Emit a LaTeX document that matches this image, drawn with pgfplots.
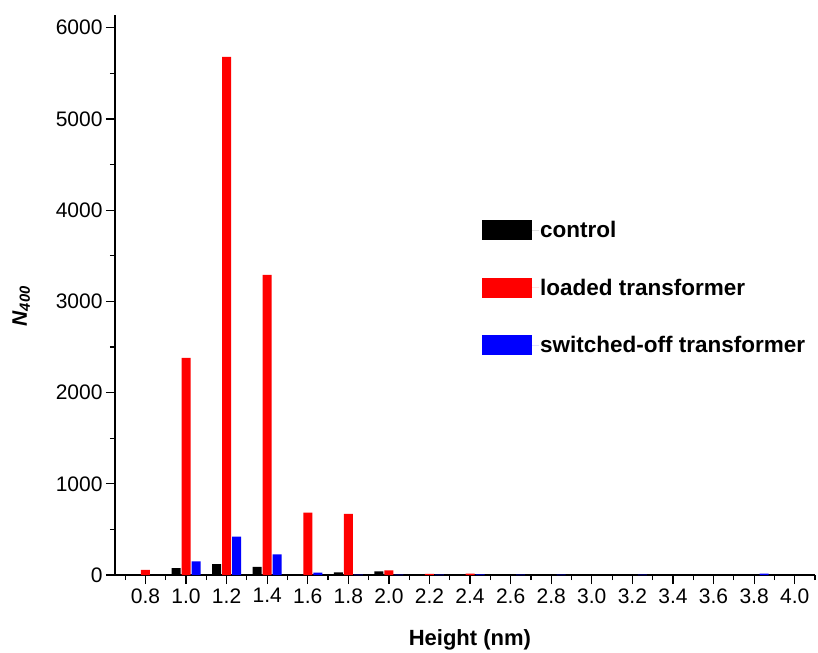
\documentclass[border=0pt]{standalone}
\usepackage{fontspec}
\setmainfont{Liberation Sans}
\usepackage{pgfplots}
\pgfplotsset{compat=1.18}
\begin{document}
\begin{tikzpicture}
\path[use as bounding box] (-115bp,-78bp) rectangle (703bp,575bp);
\begin{axis}[
  scale only axis, width=700bp, height=560bp,
  at={(0,0)}, anchor=south west,
  xmin=0.65, xmax=4.1, ymin=0, ymax=6140,
  axis x line=bottom, axis y line=left,
  axis line style={line width=1.5bp,-},
  every tick/.style={line width=1.2bp, black},
  tick align=outside,
  major tick length=9bp, minor tick length=5bp,
  xtick={0.8,1.0,...,4.01}, minor xtick={0.7,0.9,...,4.05},
  ytick={0,1000,...,6000}, minor ytick={500,1500,...,5500},
  xticklabel style={yshift=-1bp,/pgf/number format/.cd,fixed,fixed zerofill,precision=1},
  /pgf/number format/1000 sep={},
  /pgf/number format/assume math mode=true,
  tick label style={font=\fontsize{21bp}{24bp}\selectfont},
  ybar, bar width=9bp,
  xlabel={\textbf{Height (nm)}},
  xlabel style={at={(axis description cs:0.507,-0.116)}, anchor=center, font=\fontsize{22bp}{24bp}\selectfont},
  ylabel={\bfseries\itshape N\textsubscript{400}},
  ylabel style={at={(axis description cs:-0.134,0.48)}, anchor=center, font=\fontsize{21bp}{24bp}\selectfont},
  legend style={at={(axis description cs:0.5243,0.634)}, anchor=north west, draw=none, fill=none,
    font=\fontsize{22.5bp}{24bp}\selectfont\bfseries, row sep=37.5bp, inner sep=0pt,
    nodes={inner sep=1bp}},
  legend cell align=left,
  legend image code/.code={\path[#1,draw=none] (0bp,-10bp) rectangle (50bp,10bp); \path (50bp,0) -- (57bp,0);},
]
\addplot[fill=black, draw=none, bar shift=-10bp] coordinates {
 (1.0,75) (1.2,120) (1.4,90) (1.6,10) (1.8,30) (2.0,40) (2.6,5) (3.0,5) (3.4,5)};
\addplot[fill=red, draw=none, bar shift=0bp] coordinates {
 (0.8,55) (1.0,2380) (1.2,5680) (1.4,3290) (1.6,685) (1.8,670) (2.0,50) (2.2,12) (2.4,15)};
\addplot[fill=blue, draw=none, bar shift=10bp] coordinates {
 (1.0,150) (1.2,420) (1.4,225) (1.6,25) (1.8,5) (2.0,5) (2.2,5) (2.4,8) (2.6,5) (2.8,5) (3.2,5) (3.8,15)};
\legend{control, loaded transformer, switched-off transformer}
\end{axis}
\end{tikzpicture}
\end{document}
